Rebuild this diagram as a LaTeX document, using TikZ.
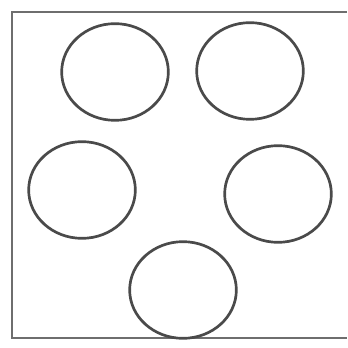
\documentclass[tikz,border=0pt]{standalone}
\usepackage{tikz}
\usetikzlibrary{shapes.geometric}
\usepackage{xcolor}
\definecolor{ringgray}{HTML}{4A4A4A}
\definecolor{framegray}{HTML}{6E6E6E}
\begin{document}
\begin{tikzpicture}[x=0.03cm, y=-0.03cm,
    ring/.style={ellipse, draw=ringgray, line width=2.3pt,
                 minimum width=3.2cm, minimum height=2.9cm, inner sep=0pt}]
      \useasboundingbox (0,0) rectangle (347,348);
      \draw[framegray, line width=1.6pt] (347,12) -- (12,12) -- (12,338) -- (347,338);

      \node[ring] (topleft)  at (115, 72) {};
      \node[ring] (topright) at (250, 71) {};
      \node[ring] (midleft)  at (82, 190) {};
      \node[ring] (midright) at (278, 194) {};
      \node[ring] (bottom)   at (183, 290) {};
    \end{tikzpicture}
\end{document}
